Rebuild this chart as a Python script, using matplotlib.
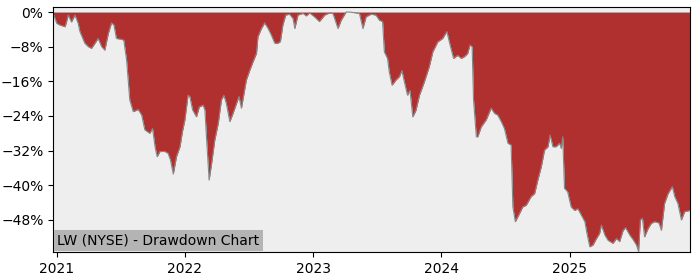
import matplotlib

matplotlib.use("Agg")
import matplotlib.pyplot as plt
import matplotlib.dates as mdates
import pandas as pd
from matplotlib.ticker import FuncFormatter, MultipleLocator

TITLE = "LW (NYSE) - Drawdown Chart"

dates = [
    "2020-12-22", "2021-01-01", "2021-01-10", "2021-01-25", "2021-02-03", "2021-02-12",
    "2021-02-22", "2021-03-03", "2021-03-08", "2021-03-22", "2021-04-01", "2021-04-10",
    "2021-04-20", "2021-04-29", "2021-05-09", "2021-05-18", "2021-05-28", "2021-06-06",
    "2021-06-13", "2021-06-20", "2021-07-05", "2021-07-11", "2021-07-19", "2021-07-28",
    "2021-08-07", "2021-08-21", "2021-08-31", "2021-09-09", "2021-09-23", "2021-10-01",
    "2021-10-08", "2021-10-14", "2021-10-22", "2021-11-05", "2021-11-14", "2021-11-21",
    "2021-11-29", "2021-12-08", "2021-12-18", "2021-12-25", "2022-01-01", "2022-01-10",
    "2022-01-15", "2022-01-23", "2022-02-03", "2022-02-11", "2022-02-22", "2022-02-27",
    "2022-03-04", "2022-03-11", "2022-03-18", "2022-03-27", "2022-04-06", "2022-04-15",
    "2022-04-22", "2022-04-29", "2022-05-09", "2022-05-18", "2022-05-28", "2022-06-04",
    "2022-06-11", "2022-06-25", "2022-07-05", "2022-07-14", "2022-07-24", "2022-07-28",
    "2022-08-07", "2022-08-16", "2022-08-26", "2022-09-04", "2022-09-14", "2022-09-23",
    "2022-09-30", "2022-10-07", "2022-10-15", "2022-10-26", "2022-11-05", "2022-11-10",
    "2022-11-19", "2022-12-03", "2022-12-13", "2022-12-22", "2023-01-05", "2023-01-19",
    "2023-02-03", "2023-02-17", "2023-02-27", "2023-03-13", "2023-03-22", "2023-04-05",
    "2023-04-15", "2023-05-13", "2023-05-23", "2023-06-01", "2023-06-15", "2023-06-29",
    "2023-07-09", "2023-07-18", "2023-07-23", "2023-08-01", "2023-08-06", "2023-08-14",
    "2023-08-25", "2023-09-04", "2023-09-11", "2023-09-18", "2023-09-27", "2023-10-04",
    "2023-10-12", "2023-10-21", "2023-10-31", "2023-11-14", "2023-11-28", "2023-12-08",
    "2023-12-22", "2024-01-05", "2024-01-17", "2024-01-25", "2024-02-05", "2024-02-17",
    "2024-02-27", "2024-03-07", "2024-03-16", "2024-03-23", "2024-03-29", "2024-04-02",
    "2024-04-10", "2024-04-14", "2024-04-24", "2024-05-08", "2024-05-22", "2024-06-01",
    "2024-06-10", "2024-06-20", "2024-06-29", "2024-07-09", "2024-07-18", "2024-07-23",
    "2024-07-30", "2024-08-11", "2024-08-20", "2024-08-30", "2024-09-13", "2024-09-23",
    "2024-10-02", "2024-10-12", "2024-10-21", "2024-10-31", "2024-11-06", "2024-11-14",
    "2024-11-23", "2024-12-03", "2024-12-08", "2024-12-12", "2024-12-17", "2024-12-26",
    "2025-01-05", "2025-01-15", "2025-01-24", "2025-02-03", "2025-02-13", "2025-02-19",
    "2025-02-27", "2025-03-08", "2025-03-18", "2025-03-27", "2025-04-01", "2025-04-11",
    "2025-04-20", "2025-05-04", "2025-05-14", "2025-05-23", "2025-06-02", "2025-06-09",
    "2025-06-21", "2025-06-30", "2025-07-10", "2025-07-16", "2025-07-21", "2025-07-27",
    "2025-08-02", "2025-08-12", "2025-08-21", "2025-08-31", "2025-09-12", "2025-09-19",
    "2025-09-28", "2025-10-08", "2025-10-20", "2025-10-27", "2025-11-05", "2025-11-15",
    "2025-11-24", "2025-12-10",
]

drawdown_pct = [
    -0.3, -2.6, -3.0, -3.4, -0.7, -2.3,
    -0.7, -2.6, -4.5, -7.2, -8.0, -8.4,
    -7.2, -6.1, -8.0, -8.8, -4.9, -2.5,
    -3.0, -6.1, -6.3, -6.5, -11.1, -20.3,
    -23.0, -22.5, -23.8, -27.2, -28.0, -26.9,
    -31.1, -33.4, -32.2, -32.2, -32.6, -34.2,
    -37.4, -33.4, -31.1, -27.6, -24.9, -19.2,
    -19.5, -22.6, -24.2, -21.9, -21.5, -22.6,
    -29.6, -38.8, -35.0, -29.6, -25.7, -20.3,
    -19.2, -21.1, -25.3, -23.4, -21.1, -19.5,
    -22.2, -15.7, -13.4, -11.5, -9.5, -5.7,
    -3.8, -2.5, -3.8, -5.3, -7.2, -7.2,
    -6.8, -3.0, -0.7, -0.5, -1.5, -3.8,
    -0.7, -0.3, -0.9, -0.2, -1.1, -2.2,
    -0.7, -0.2, -0.4, -3.8, -1.9, 0.0,
    0.0, -0.3, -3.8, -1.1, -0.5, -0.7,
    -1.9, -2.2, -9.2, -10.7, -13.8, -16.9,
    -15.7, -14.9, -13.5, -16.1, -19.2, -18.1,
    -24.2, -22.7, -19.2, -16.1, -12.6, -9.2,
    -6.9, -6.1, -4.5, -7.2, -10.7, -10.0,
    -10.7, -10.3, -9.6, -7.6, -8.0, -20.3,
    -28.8, -28.8, -26.5, -24.9, -22.2, -23.4,
    -23.8, -25.3, -26.9, -30.3, -30.7, -45.0,
    -48.4, -46.5, -45.0, -44.6, -42.6, -41.9,
    -38.8, -35.7, -31.9, -31.1, -28.4, -31.1,
    -31.1, -30.3, -31.5, -28.8, -40.7, -41.5,
    -45.0, -45.8, -45.4, -46.9, -48.4, -51.1,
    -54.2, -53.8, -52.3, -51.1, -49.2, -51.5,
    -52.7, -53.4, -52.3, -53.0, -50.4, -49.8,
    -51.5, -52.5, -53.8, -55.3, -48.0, -47.6,
    -51.9, -50.0, -48.8, -48.4, -48.7, -50.4,
    -44.2, -41.9, -40.3, -42.6, -44.2, -48.0,
    -46.1, -45.8,
]

df = pd.DataFrame({"date": pd.to_datetime(dates), "dd": drawdown_pct})

fig = plt.figure(figsize=(7, 2.8), dpi=100)
ax = fig.add_axes([0.076, 0.1, 0.910, 0.874])
ax.set_facecolor("#eeeeee")

ax.fill_between(df["date"], df["dd"], 0, color="#b03030", linewidth=0)
ax.plot(df["date"], df["dd"], color="#888888", linewidth=0.8)

ax.set_xlim(df["date"].iloc[0], df["date"].iloc[-1])
ax.set_ylim(-55.4, 1.1)

ax.yaxis.set_major_locator(MultipleLocator(8))
ax.yaxis.set_major_formatter(
    FuncFormatter(lambda v, _: f"{int(round(v))}%".replace("-", "\u2212"))
)
ax.xaxis.set_major_locator(mdates.YearLocator())
ax.xaxis.set_major_formatter(mdates.DateFormatter("%Y"))
ax.tick_params(labelsize=10)

ax.text(
    0.006, 0.018, TITLE, transform=ax.transAxes, fontsize=10,
    ha="left", va="bottom",
    bbox=dict(facecolor="#b4b4b4", edgecolor="none", pad=2.5),
)

fig.savefig("out.png", dpi=100)
